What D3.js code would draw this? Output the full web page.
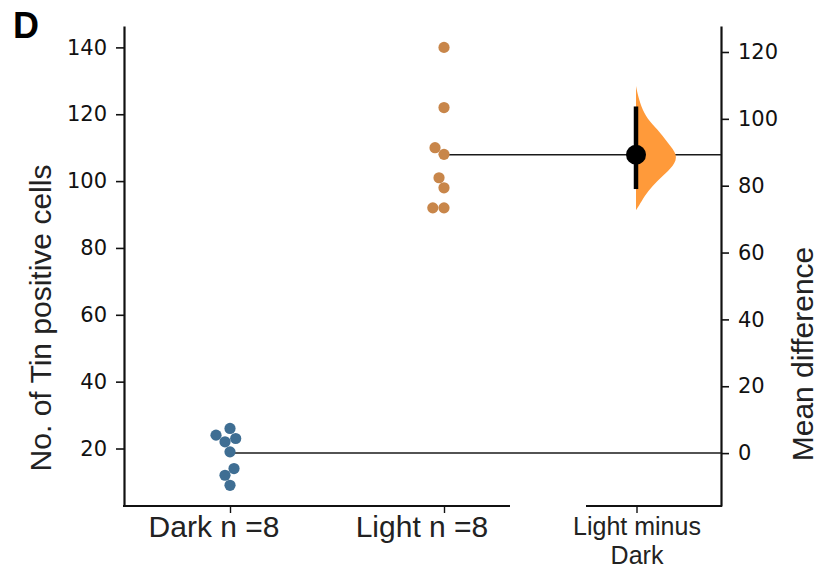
<!DOCTYPE html>
<html>
<head>
<meta charset="utf-8">
<script src="https://cdn.jsdelivr.net/npm/d3@7.9.0/dist/d3.min.js"></script>
<style>
  body { margin: 0; background: #fff; }
  svg { display: block; }
  .tick text { font-family: "DejaVu Sans", sans-serif; font-size: 21px; fill: #111; }
  .lbl { font-family: "Liberation Sans", Arial, sans-serif; fill: #222; }
</style>
</head>
<body>
<svg width="821" height="571"></svg>
<script>
// data
const groups = ['Dark', 'Light'];
const groupLabels = ['Dark n =8', 'Light n =8'];
const darkValues = [26, 24, 23, 22, 19, 14, 12, 9];
const lightValues = [140, 122, 110, 108, 101, 98, 92, 92];
const leftTicks = [20, 40, 60, 80, 100, 120, 140];
const rightTicks = [0, 20, 40, 60, 80, 100, 120];
const ci = [79, 103.7];
// bootstrap distribution of mean difference (relative density)
const violinDiff = [109.8, 106.8, 103.8, 99.9, 96.9, 92.8, 89.2, 85.9, 82.9, 79.9, 76.9, 73.9, 72.7];
const violinDens = [0, 0.05, 0.12, 0.27, 0.51, 0.76, 1, 0.9, 0.63, 0.39, 0.2, 0.07, 0];

const svg = d3.select('svg');
const dotR = 5.6;

const yLeft = d3.scaleLinear().domain([2.8, 146.4]).range([506, 26]);
const darkMean = d3.mean(darkValues);
const lightMean = d3.mean(lightValues);
const diff = lightMean - darkMean;
const yRight = d3.scaleLinear()
  .domain([2.8 - darkMean, 146.4 - darkMean])
  .range([506, 26]);

const x = d3.scalePoint().domain(groups).range([230, 444]);
const xContrast = 637;
const labelShift = [-16, -22];

// panel letter
svg.append('text').attr('class', 'lbl')
  .attr('x', 13).attr('y', 38)
  .style('font-size', '36px').style('font-weight', 'bold').style('fill', '#000')
  .text('D');

// left axis
const gl = svg.append('g').attr('transform', 'translate(124,0)')
  .call(d3.axisLeft(yLeft).tickValues(leftTicks).tickSize(8).tickPadding(9).tickSizeOuter(0));
gl.select('.domain').attr('stroke', '#111').attr('stroke-width', 2.2);
gl.selectAll('.tick line').attr('stroke', '#111').attr('stroke-width', 1.6);

// right axis
const gr = svg.append('g').attr('transform', 'translate(721,0)')
  .call(d3.axisRight(yRight).tickValues(rightTicks).tickSize(8).tickPadding(9).tickSizeOuter(0));
gr.select('.domain').attr('stroke', '#111').attr('stroke-width', 2.2);
gr.selectAll('.tick line').attr('stroke', '#111').attr('stroke-width', 1.6);

// bottom spines
svg.append('line').attr('x1', 123).attr('x2', 510).attr('y1', 506).attr('y2', 506)
  .attr('stroke', '#111').attr('stroke-width', 2.2);
svg.append('line').attr('x1', 586).attr('x2', 722).attr('y1', 506).attr('y2', 506)
  .attr('stroke', '#111').attr('stroke-width', 2.2);

// bottom ticks
const gb = svg.append('g').attr('transform', 'translate(0,506)')
  .call(d3.axisBottom(x).tickSize(7).tickFormat(''));
gb.select('.domain').remove();
gb.selectAll('.tick line').attr('stroke', '#111').attr('stroke-width', 1.4);
svg.append('line').attr('x1', xContrast).attr('x2', xContrast).attr('y1', 506).attr('y2', 513)
  .attr('stroke', '#111').attr('stroke-width', 1.4);

groups.forEach((g, i) => {
  svg.append('text').attr('class', 'lbl')
    .attr('x', x(g) + labelShift[i]).attr('y', 537)
    .attr('text-anchor', 'middle')
    .style('font-size', '30px')
    .text(groupLabels[i]);
});
svg.append('text').attr('class', 'lbl')
  .attr('x', xContrast).attr('y', 535).attr('text-anchor', 'middle')
  .style('font-size', '25px').text('Light minus');
svg.append('text').attr('class', 'lbl')
  .attr('x', xContrast).attr('y', 564).attr('text-anchor', 'middle')
  .style('font-size', '25px').text('Dark');

// axis titles
svg.append('text').attr('class', 'lbl')
  .attr('transform', 'translate(51,318) rotate(-90)')
  .attr('text-anchor', 'middle').style('font-size', '30px')
  .text('No. of Tin positive cells');
svg.append('text').attr('class', 'lbl')
  .attr('transform', 'translate(813,354) rotate(-90)')
  .attr('text-anchor', 'middle').style('font-size', '30px')
  .text('Mean difference');

// mean lines to the right axis
[[darkMean, 'Dark'], [lightMean, 'Light']].forEach(([m, g]) => {
  svg.append('line')
    .attr('x1', x(g) + 1).attr('x2', 721)
    .attr('y1', yLeft(m)).attr('y2', yLeft(m))
    .attr('stroke', '#1a1a1a').attr('stroke-width', 1.5);
});

// simple beeswarm (seaborn-like)
function swarm(values) {
  const d = dotR * 2;
  const placed = [];
  const sorted = values.slice().sort((a, b) => a - b);
  sorted.forEach(v => {
    const py = yLeft(v);
    const nb = placed.filter(p => Math.abs(p.y - py) < d);
    let cands = [0];
    nb.forEach(p => {
      const dx = Math.sqrt(d * d - (p.y - py) ** 2);
      cands.push(p.x - dx, p.x + dx);
    });
    cands = cands.map((c, i) => ({ c, i })).sort((a, b) => Math.abs(a.c) - Math.abs(b.c) || a.i - b.i);
    let best = 0;
    for (const { c } of cands) {
      if (nb.every(p => Math.hypot(p.x - c, p.y - py) >= d - 0.01)) { best = c; break; }
    }
    placed.push({ x: best, y: py, v });
  });
  return placed;
}

svg.append('g').selectAll('circle')
  .data(swarm(darkValues)).enter().append('circle')
  .attr('cx', d => x('Dark') + d.x).attr('cy', d => d.y).attr('r', dotR)
  .attr('fill', '#3f6e93');
svg.append('g').selectAll('circle')
  .data(swarm(lightValues)).enter().append('circle')
  .attr('cx', d => x('Light') + d.x).attr('cy', d => d.y).attr('r', dotR)
  .attr('fill', '#c8864a');

// half violin
const wScale = d3.scaleLinear().domain([0, 1]).range([0, 42]);
const vData = violinDiff.map((v, i) => ({ v, w: violinDens[i] }));
svg.append('path')
  .datum(vData)
  .attr('d', d3.area()
    .y(d => yRight(d.v))
    .x0(xContrast - 1)
    .x1(d => xContrast - 1 + wScale(d.w))
    .curve(d3.curveBasis))
  .attr('fill', '#ff9a3a');

// CI and point estimate
svg.append('line')
  .attr('x1', xContrast - 1).attr('x2', xContrast - 1)
  .attr('y1', yRight(ci[0])).attr('y2', yRight(ci[1]))
  .attr('stroke', '#000').attr('stroke-width', 4.5);
svg.append('circle')
  .attr('cx', xContrast - 1).attr('cy', yRight(diff)).attr('r', 10)
  .attr('fill', '#000');
</script>
</body>
</html>
